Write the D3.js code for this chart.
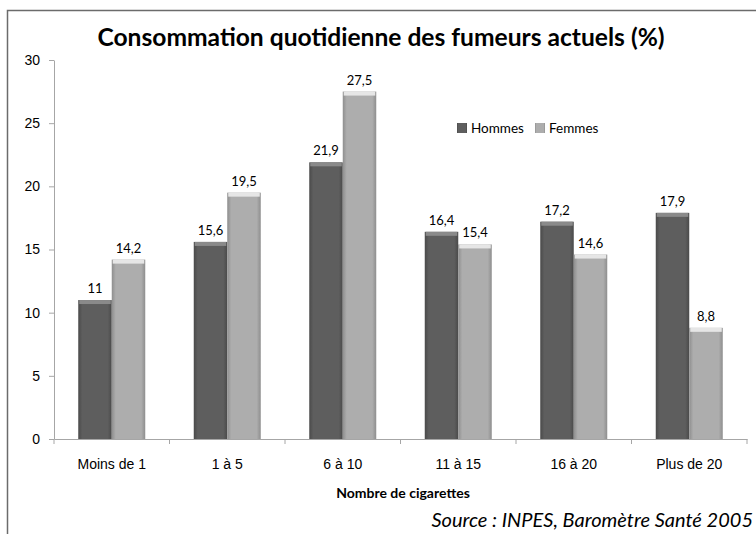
<!DOCTYPE html>
<html>
<head>
<meta charset="utf-8">
<script src="https://cdn.jsdelivr.net/npm/d3@7"></script>
<style>
  body { margin: 0; background: #fff; }
  svg { font-family: Lato, "Open Sans", sans-serif; }
</style>
</head>
<body>
<div id="chart"></div>
<script>
const categories = ["Moins de 1", "1 à 5", "6 à 10", "11 à 15", "16 à 20", "Plus de 20"];
const seriesNames = ["Hommes", "Femmes"];
const hommes = [11, 15.6, 21.9, 16.4, 17.2, 17.9];
const femmes = [14.2, 19.5, 27.5, 15.4, 14.6, 8.8];
const yTicks = [0, 5, 10, 15, 20, 25, 30];

const W = 756, H = 534;
const plot = { left: 54, right: 747, top: 60, bottom: 439 };

const svg = d3.select("#chart").append("svg").attr("width", W).attr("height", H);

// frame (runs off the right and bottom edge like the original crop)
svg.append("rect")
  .attr("x", 7.5).attr("y", 10.5)
  .attr("width", W + 20).attr("height", H + 20)
  .attr("fill", "none").attr("stroke", "#6b6b6b").attr("stroke-width", 1.5);

const defs = svg.append("defs");
function grad(id, edge, mid) {
  const g = defs.append("linearGradient").attr("id", id).attr("x1", 0).attr("x2", 1).attr("y1", 0).attr("y2", 0);
  g.append("stop").attr("offset", "0%").attr("stop-color", edge);
  g.append("stop").attr("offset", "12%").attr("stop-color", mid);
  g.append("stop").attr("offset", "88%").attr("stop-color", mid);
  g.append("stop").attr("offset", "100%").attr("stop-color", edge);
}
grad("gH", "#4a4a4a", "#5e5e5e");
grad("gF", "#8e8e8e", "#adadad");

const x0 = d3.scaleBand().domain(categories).range([plot.left, plot.right]).paddingInner(0).paddingOuter(0);
const x1 = d3.scaleBand().domain(seriesNames).range([0, x0.bandwidth() * 0.58]);
const y = d3.scaleLinear().domain([0, 30]).range([plot.bottom, plot.top]);
const groupOffset = (x0.bandwidth() - x1.range()[1]) / 2;

// y axis
const yAxis = svg.append("g").attr("transform", `translate(${plot.left},0)`)
  .call(d3.axisLeft(y).tickValues(yTicks).tickSize(5).tickPadding(9).tickSizeOuter(0));
yAxis.select(".domain").attr("stroke", "#a6a6a6");
yAxis.selectAll(".tick line").attr("stroke", "#a6a6a6");
yAxis.selectAll(".tick text").attr("font-size", 14).attr("fill", "#000");

// x axis
const xAxis = svg.append("g").attr("transform", `translate(0,${plot.bottom})`)
  .call(d3.axisBottom(x0).tickSize(0).tickPadding(20));
xAxis.select(".domain").attr("stroke", "#a6a6a6");
xAxis.selectAll(".tick text").attr("font-size", 14).attr("fill", "#000");
xAxis.selectAll(".sep").data(d3.range(categories.length + 1)).enter().append("line")
  .attr("x1", i => plot.left + i * x0.bandwidth()).attr("x2", i => plot.left + i * x0.bandwidth())
  .attr("y1", 0).attr("y2", 5).attr("stroke", "#a6a6a6");

const rows = categories.map((c, i) => ({ cat: c, values: [
  { s: "Hommes", v: hommes[i] }, { s: "Femmes", v: femmes[i] }] }));

const groups = svg.selectAll(".grp").data(rows).enter().append("g")
  .attr("transform", d => `translate(${x0(d.cat) + groupOffset},0)`);

const bars = groups.selectAll(".bar").data(d => d.values).enter().append("g");
bars.append("rect")
  .attr("x", d => x1(d.s)).attr("width", x1.bandwidth())
  .attr("y", d => y(d.v)).attr("height", d => y(0) - y(d.v))
  .attr("fill", d => d.s === "Hommes" ? "url(#gH)" : "url(#gF)");
// top bevel
bars.append("rect")
  .attr("x", d => x1(d.s) + 1).attr("width", x1.bandwidth() - 2)
  .attr("y", d => y(d.v)).attr("height", 4)
  .attr("fill", d => d.s === "Hommes" ? "#8a8a8a" : "#e6e6e6");
bars.append("text")
  .attr("x", d => x1(d.s) + x1.bandwidth() / 2)
  .attr("y", d => y(d.v) - 7)
  .attr("text-anchor", "middle").attr("font-size", 13).attr("fill", "#000")
  .text(d => String(d.v).replace(".", ","));

// title
svg.append("text").attr("x", 381).attr("y", 46).attr("text-anchor", "middle")
  .attr("font-size", 24.6).attr("font-weight", "bold").attr("fill", "#000")
  .text("Consommation quotidienne des fumeurs actuels (%)");

// legend
const legend = svg.append("g").attr("transform", "translate(457,123)");
const legX = [0, 78];
seriesNames.forEach((s, i) => {
  legend.append("rect").attr("x", legX[i]).attr("y", 0).attr("width", 10).attr("height", 10)
    .attr("fill", i === 0 ? "url(#gH)" : "url(#gF)");
  legend.append("text").attr("x", legX[i] + 14).attr("y", 10).attr("font-size", 13.5).attr("fill", "#000").text(s);
});

// axis title
svg.append("text").attr("x", 403).attr("y", 498).attr("text-anchor", "middle")
  .attr("font-size", 14).attr("font-weight", "bold").attr("fill", "#000").text("Nombre de cigarettes");

// source
svg.append("text").attr("x", 753).attr("y", 527).attr("text-anchor", "end")
  .attr("font-size", 20).attr("font-style", "italic").attr("fill", "#000")
  .text("Source : INPES, Baromètre Santé 2005");
</script>
</body>
</html>
